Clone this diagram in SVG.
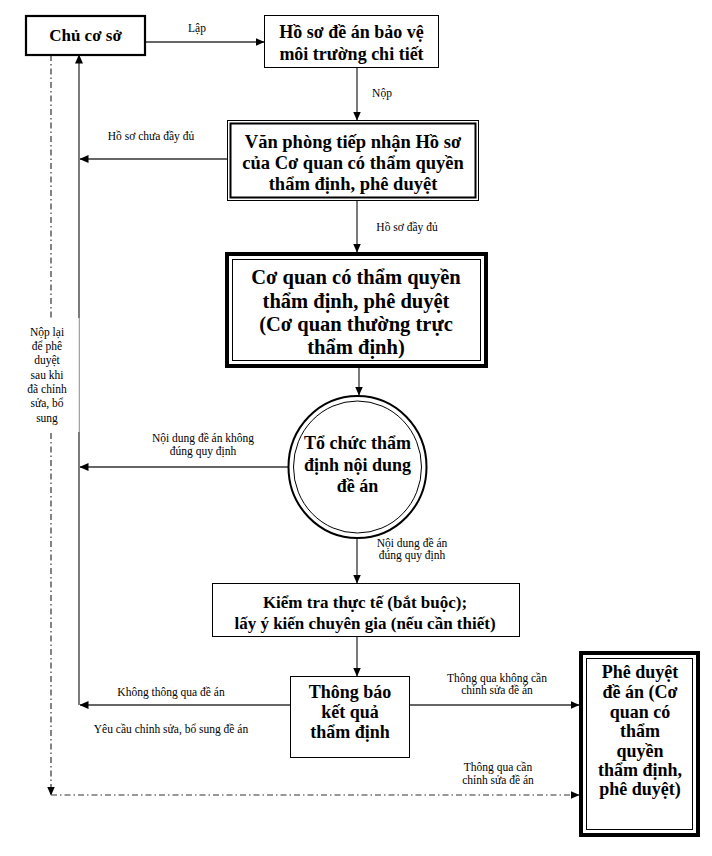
<svg xmlns="http://www.w3.org/2000/svg" width="712" height="856" viewBox="0 0 712 856">
<defs>
<style>
.b{font-family:"Liberation Serif","Times New Roman",serif;font-weight:bold;fill:#000;text-anchor:middle}
.s{font-family:"Liberation Serif","Times New Roman",serif;font-size:11.5px;fill:#000;text-anchor:middle}
.ln{stroke:#333;stroke-width:1.3;fill:none}
.dd{stroke:#333;stroke-width:1.2;fill:none;stroke-dasharray:6 3 1.5 3}
</style>
<marker id="ah" markerWidth="9" markerHeight="8" refX="8.5" refY="4" orient="auto" markerUnits="userSpaceOnUse">
<path d="M0,0 L9,4 L0,8 Z" fill="#000"/>
</marker>
</defs>
<rect width="712" height="856" fill="#fff"/>

<g id="connectors">
<line class="ln" x1="145" y1="42" x2="264" y2="42" marker-end="url(#ah)"/>
<line class="ln" x1="357" y1="68" x2="357" y2="120" marker-end="url(#ah)"/>
<line class="ln" x1="227" y1="159" x2="80" y2="159" marker-end="url(#ah)"/>
<line class="ln" x1="357" y1="201" x2="357" y2="252" marker-end="url(#ah)"/>
<line class="ln" x1="359" y1="368" x2="359" y2="395" marker-end="url(#ah)"/>
<line class="ln" x1="288" y1="467" x2="80" y2="467" marker-end="url(#ah)"/>
<line class="ln" x1="357" y1="539" x2="357" y2="583" marker-end="url(#ah)"/>
<line class="ln" x1="357" y1="637" x2="357" y2="676" marker-end="url(#ah)"/>
<line class="ln" x1="290" y1="705" x2="80" y2="705" marker-end="url(#ah)"/>
<line class="ln" x1="79" y1="705" x2="79" y2="55" marker-end="url(#ah)"/>
<line class="ln" x1="410" y1="705" x2="579" y2="705" marker-end="url(#ah)"/>
<line class="dd" x1="51" y1="55" x2="51" y2="795" marker-end="url(#ah)"/>
<line class="dd" x1="51" y1="795" x2="579" y2="795" marker-end="url(#ah)"/>
<text class="s" x="197" y="32">Lập</text>
<text class="s" x="382" y="97">Nộp</text>
<text class="s" x="151" y="140">Hồ sơ chưa đầy đủ</text>
<text class="s" x="407" y="231">Hồ sơ đầy đủ</text>
<text class="s" x="203" y="442">Nội dung đề án không</text>
<text class="s" x="203" y="455">đúng quy định</text>
<text class="s" x="412" y="547">Nội dung đề án</text>
<text class="s" x="412" y="559">đúng quy định</text>
<text class="s" x="171" y="696">Không thông qua đề án</text>
<text class="s" x="171" y="733">Yêu cầu chỉnh sửa, bổ sung đề án</text>
<text class="s" x="497" y="682">Thông qua không cần</text>
<text class="s" x="497" y="694">chỉnh sửa đề án</text>
<text class="s" x="498" y="771">Thông qua cần</text>
<text class="s" x="498" y="784">chỉnh sửa đề án</text>
</g>

<g id="note-resubmit">
<rect x="25" y="318" width="54" height="114" fill="#fff"/>
<line x1="79" y1="318" x2="79" y2="432" stroke="#ccc" stroke-width="1"/>
<text class="s" x="47" y="336">Nộp lại</text>
<text class="s" x="47" y="350">để phê</text>
<text class="s" x="47" y="364">duyệt</text>
<text class="s" x="47" y="379">sau khi</text>
<text class="s" x="47" y="393">đã chỉnh</text>
<text class="s" x="47" y="407">sửa, bổ</text>
<text class="s" x="47" y="422">sung</text>
</g>

<g id="chu-co-so">
<rect x="26" y="16" width="119" height="39" fill="#fff" stroke="#000" stroke-width="2.2"/>
<text class="b" x="85.5" y="41" font-size="17">Chủ cơ sở</text>
</g>

<g id="ho-so">
<rect x="264.5" y="15.5" width="174" height="52" fill="#fff" stroke="#000" stroke-width="1"/>
<text class="b" x="351.5" y="38" font-size="18">Hồ sơ đề án bảo vệ</text>
<text class="b" x="351.5" y="60" font-size="18">môi trường chi tiết</text>
</g>

<g id="van-phong">
<rect x="227.5" y="120.5" width="251" height="80" fill="#fff" stroke="#000" stroke-width="1"/>
<rect x="230.5" y="123.5" width="245" height="74" fill="none" stroke="#000" stroke-width="2"/>
<text class="b" x="353" y="148" font-size="18.5">Văn phòng tiếp nhận Hồ sơ</text>
<text class="b" x="353" y="169" font-size="18.5">của Cơ quan có thẩm quyền</text>
<text class="b" x="353" y="190" font-size="18.5">thẩm định, phê duyệt</text>
</g>

<g id="co-quan">
<rect x="227" y="254" width="259" height="112" fill="#fff" stroke="#000" stroke-width="4"/>
<rect x="232.5" y="259.5" width="248" height="101" fill="none" stroke="#000" stroke-width="1"/>
<text class="b" x="356" y="284" font-size="20.5">Cơ quan có thẩm quyền</text>
<text class="b" x="356" y="308" font-size="20.5">thẩm định, phê duyệt</text>
<text class="b" x="356" y="331" font-size="20.5">(Cơ quan thường trực</text>
<text class="b" x="356" y="354" font-size="20.5">thẩm định)</text>
</g>

<g id="to-chuc">
<ellipse cx="357.5" cy="467" rx="69" ry="71" fill="#fff" stroke="#000" stroke-width="2"/>
<ellipse cx="357.5" cy="467" rx="64" ry="66" fill="none" stroke="#000" stroke-width="1"/>
<text class="b" x="357.5" y="449" font-size="18">Tổ chức thẩm</text>
<text class="b" x="357.5" y="471" font-size="18">định nội dung</text>
<text class="b" x="357.5" y="492" font-size="18">đề án</text>
</g>

<g id="kiem-tra">
<rect x="212.5" y="583.5" width="307" height="53" fill="#fff" stroke="#000" stroke-width="1"/>
<text class="b" x="365" y="608" font-size="17">Kiểm tra thực tế (bắt buộc);</text>
<text class="b" x="365" y="629" font-size="17">lấy ý kiến chuyên gia (nếu cần thiết)</text>
</g>

<g id="thong-bao">
<rect x="290.5" y="676.5" width="119" height="81" fill="#fff" stroke="#000" stroke-width="1"/>
<text class="b" x="350" y="698" font-size="18">Thông báo</text>
<text class="b" x="350" y="718" font-size="18">kết quả</text>
<text class="b" x="350" y="738" font-size="18">thẩm định</text>
</g>

<g id="phe-duyet">
<rect x="581" y="653" width="117" height="182" fill="#fff" stroke="#000" stroke-width="4"/>
<rect x="586.5" y="658.5" width="106" height="171" fill="none" stroke="#000" stroke-width="1"/>
<text class="b" x="640" y="678" font-size="18">Phê duyệt</text>
<text class="b" x="640" y="698" font-size="18">đề án (Cơ</text>
<text class="b" x="640" y="718" font-size="18">quan có</text>
<text class="b" x="640" y="737" font-size="18">thẩm</text>
<text class="b" x="640" y="757" font-size="18">quyền</text>
<text class="b" x="640" y="776" font-size="18">thẩm định,</text>
<text class="b" x="640" y="795" font-size="18">phê duyệt)</text>
</g>
</svg>
